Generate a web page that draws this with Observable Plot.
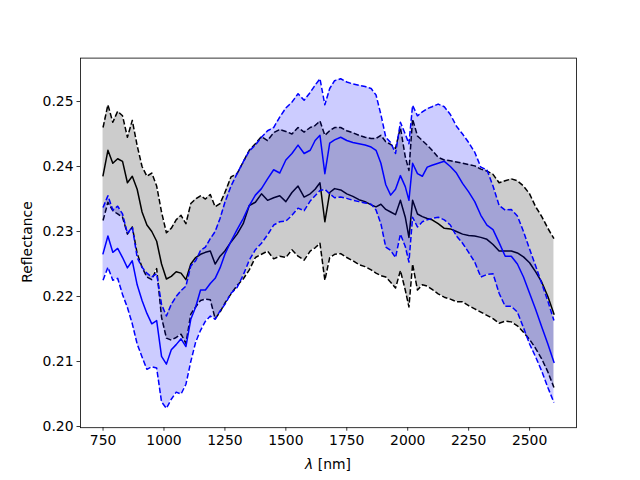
<!DOCTYPE html>
<html><head><meta charset="utf-8">
<script src="https://cdn.jsdelivr.net/npm/d3@7"></script>
<script src="https://cdn.jsdelivr.net/npm/@observablehq/plot@0.6"></script>
<style>
body{margin:0;background:#fff;}
svg{font-family:"DejaVu Sans";}
</style>
</head><body><div id="chart"></div>
<script>
const wavelength = [
  750, 770, 790, 810, 830, 850, 870, 890, 910, 930, 950, 970,
  990, 1010, 1030, 1050, 1070, 1090, 1110, 1130, 1150, 1170, 1190, 1210,
  1230, 1250, 1275, 1300, 1325, 1350, 1375, 1400, 1425, 1450, 1475, 1500,
  1525, 1550, 1575, 1600, 1620, 1640, 1660, 1680, 1700, 1725, 1750, 1775,
  1800, 1825, 1850, 1870, 1890, 1910, 1930, 1950, 1970, 1990, 2005, 2020,
  2040, 2060, 2080, 2100, 2125, 2150, 2175, 2200, 2225, 2250, 2275, 2300,
  2325, 2350, 2375, 2400, 2425, 2450, 2475, 2500, 2525, 2550, 2575, 2600
];
const blackUpper = [
  0.2460, 0.2495, 0.2468, 0.2485, 0.2478, 0.2445, 0.2471, 0.2432, 0.2400, 0.2385, 0.2390, 0.2370,
  0.2330, 0.2298, 0.2305, 0.2318, 0.2325, 0.2312, 0.2343, 0.2350, 0.2355, 0.2350, 0.2357, 0.2338,
  0.2343, 0.2360, 0.2384, 0.2389, 0.2407, 0.2425, 0.2435, 0.2446, 0.2440, 0.2452, 0.2457, 0.2454,
  0.2450, 0.2460, 0.2453, 0.2460, 0.2463, 0.2470, 0.2448, 0.2455, 0.2460, 0.2460, 0.2455, 0.2452,
  0.2448, 0.2445, 0.2443, 0.2443, 0.2448, 0.2438, 0.2434, 0.2428, 0.2460, 0.2415, 0.2394, 0.2473,
  0.2447, 0.2440, 0.2433, 0.2425, 0.2414, 0.2410, 0.2409, 0.2407, 0.2405, 0.2403, 0.2401, 0.2396,
  0.2393, 0.2388, 0.2375, 0.2378, 0.2381, 0.2378, 0.2370, 0.2358, 0.2338, 0.2323, 0.2305, 0.2289
];
const blackMean = [
  0.2386, 0.2425, 0.2405, 0.2412, 0.2408, 0.2375, 0.2385, 0.2365, 0.2330, 0.2310, 0.2300, 0.2285,
  0.2250, 0.2227, 0.2231, 0.2238, 0.2236, 0.2226, 0.2250, 0.2260, 0.2265, 0.2268, 0.2270, 0.2250,
  0.2262, 0.2270, 0.2284, 0.2296, 0.2312, 0.2340, 0.2345, 0.2358, 0.2348, 0.2352, 0.2355, 0.2346,
  0.2360, 0.2370, 0.2353, 0.2358, 0.2365, 0.2375, 0.2315, 0.2360, 0.2366, 0.2364, 0.2358, 0.2354,
  0.2349, 0.2346, 0.2341, 0.2338, 0.2342, 0.2334, 0.2330, 0.2326, 0.2348, 0.2322, 0.2291, 0.2348,
  0.2327, 0.2323, 0.2320, 0.2318, 0.2312, 0.2305, 0.2304, 0.2300, 0.2296, 0.2294, 0.2293, 0.2291,
  0.2288, 0.2280, 0.2270, 0.2270, 0.2270, 0.2267, 0.2261, 0.2252, 0.2238, 0.2222, 0.2200, 0.2173
];
const blackLower = [
  0.2317, 0.2345, 0.2332, 0.2327, 0.2322, 0.2296, 0.2307, 0.2266, 0.2245, 0.2230, 0.2226, 0.2243,
  0.2168, 0.2136, 0.2133, 0.2137, 0.2142, 0.2128, 0.2173, 0.2184, 0.2194, 0.2196, 0.2195, 0.2166,
  0.2176, 0.2190, 0.2204, 0.2217, 0.2227, 0.2241, 0.2260, 0.2265, 0.2270, 0.2258, 0.2262, 0.2260,
  0.2272, 0.2262, 0.2256, 0.2270, 0.2275, 0.2282, 0.2225, 0.2260, 0.2265, 0.2266, 0.2260, 0.2255,
  0.2249, 0.2246, 0.2241, 0.2236, 0.2232, 0.2230, 0.2222, 0.2213, 0.2240, 0.2210, 0.2184, 0.2250,
  0.2210, 0.2218, 0.2216, 0.2211, 0.2204, 0.2199, 0.2196, 0.2192, 0.2192, 0.2186, 0.2181, 0.2176,
  0.2171, 0.2166, 0.2159, 0.2162, 0.2161, 0.2155, 0.2145, 0.2134, 0.2120, 0.2104, 0.2084, 0.2060
];
const blueUpper = [
  0.2337, 0.2355, 0.2333, 0.2339, 0.2327, 0.2297, 0.2307, 0.2260, 0.2245, 0.2236, 0.2230, 0.2235,
  0.2188, 0.2170, 0.2188, 0.2200, 0.2209, 0.2216, 0.2247, 0.2255, 0.2271, 0.2276, 0.2289, 0.2300,
  0.2320, 0.2345, 0.2370, 0.2389, 0.2407, 0.2424, 0.2433, 0.2445, 0.2455, 0.2460, 0.2476, 0.2490,
  0.2499, 0.2512, 0.2502, 0.2514, 0.2525, 0.2535, 0.2495, 0.2520, 0.2532, 0.2535, 0.2530, 0.2527,
  0.2525, 0.2523, 0.2520, 0.2510, 0.2480, 0.2445, 0.2437, 0.2420, 0.2468, 0.2450, 0.2435, 0.2494,
  0.2478, 0.2484, 0.2489, 0.2492, 0.2496, 0.2492, 0.2480, 0.2462, 0.2450, 0.2437, 0.2422, 0.2399,
  0.2395, 0.2370, 0.2340, 0.2333, 0.2334, 0.2324, 0.2300, 0.2273, 0.2247, 0.2220, 0.2193, 0.2163
];
const blueMean = [
  0.2266, 0.2293, 0.2268, 0.2274, 0.2260, 0.2244, 0.2255, 0.2218, 0.2194, 0.2174, 0.2158, 0.2163,
  0.2108, 0.2096, 0.2118, 0.2126, 0.2135, 0.2123, 0.2165, 0.2184, 0.2210, 0.2210, 0.2220, 0.2228,
  0.2244, 0.2265, 0.2285, 0.2303, 0.2320, 0.2340, 0.2356, 0.2366, 0.2381, 0.2395, 0.2390, 0.2410,
  0.2420, 0.2433, 0.2420, 0.2425, 0.2440, 0.2448, 0.2389, 0.2436, 0.2441, 0.2445, 0.2440, 0.2437,
  0.2435, 0.2433, 0.2430, 0.2425, 0.2405, 0.2372, 0.2356, 0.2365, 0.2386, 0.2369, 0.2348, 0.2405,
  0.2389, 0.2385, 0.2399, 0.2402, 0.2405, 0.2408, 0.2400, 0.2390, 0.2374, 0.2361, 0.2346, 0.2325,
  0.2310, 0.2303, 0.2283, 0.2262, 0.2262, 0.2250, 0.2230, 0.2205, 0.2180, 0.2153, 0.2127, 0.2099
];
const blueLower = [
  0.2225, 0.2245, 0.2225, 0.2228, 0.2203, 0.2183, 0.2158, 0.2127, 0.2107, 0.2088, 0.2092, 0.2090,
  0.2038, 0.2028, 0.2042, 0.2053, 0.2050, 0.2065, 0.2100, 0.2130, 0.2148, 0.2162, 0.2170, 0.2165,
  0.2178, 0.2188, 0.2205, 0.2214, 0.2233, 0.2256, 0.2272, 0.2282, 0.2295, 0.2310, 0.2315, 0.2316,
  0.2325, 0.2336, 0.2332, 0.2347, 0.2355, 0.2363, 0.2365, 0.2358, 0.2352, 0.2353, 0.2351, 0.2348,
  0.2346, 0.2344, 0.2342, 0.2333, 0.2312, 0.2276, 0.2271, 0.2260, 0.2296, 0.2277, 0.2253, 0.2322,
  0.2307, 0.2315, 0.2318, 0.2320, 0.2322, 0.2318, 0.2310, 0.2293, 0.2282, 0.2268, 0.2253, 0.2230,
  0.2234, 0.2235, 0.2205, 0.2185, 0.2185, 0.2176, 0.2152, 0.2127, 0.2107, 0.2085, 0.2060, 0.2037
];
const xTicks = [750, 1000, 1250, 1500, 1750, 2000, 2250, 2500];
const yTicks = [0.20, 0.21, 0.22, 0.23, 0.24, 0.25];
const yLabel = "Reflectance";

const rows = wavelength.map((w, i) => ({
  w, bu: blackUpper[i], bm: blackMean[i], bl: blackLower[i],
  uu: blueUpper[i], um: blueMean[i], ul: blueLower[i]
}));

const dashed = {strokeWidth: 1.5, strokeDasharray: "5.55,2.4", strokeLinecap: "butt", strokeLinejoin: "round"};
const solid = {strokeWidth: 1.5, strokeLinecap: "square", strokeLinejoin: "round"};
const chart = Plot.plot({
  width: 640, height: 480,
  marginLeft: 80, marginRight: 64, marginTop: 57.6, marginBottom: 52.8,
  x: {domain: [657.5, 2692.5]},
  y: {domain: [0.19982, 0.25668]},
  style: {fontFamily: "DejaVu Sans", fontSize: "13.9px", background: "white", color: "black"},
  marks: [
    Plot.areaY(rows, {x: "w", y1: "bl", y2: "bu", fill: "black", fillOpacity: 0.2}),
    Plot.lineY(rows, {x: "w", y: "bu", stroke: "black", ...dashed}),
    Plot.lineY(rows, {x: "w", y: "bl", stroke: "black", ...dashed}),
    Plot.lineY(rows, {x: "w", y: "bm", stroke: "black", ...solid}),
    Plot.areaY(rows, {x: "w", y1: "ul", y2: "uu", fill: "blue", fillOpacity: 0.2}),
    Plot.lineY(rows, {x: "w", y: "uu", stroke: "blue", ...dashed}),
    Plot.lineY(rows, {x: "w", y: "ul", stroke: "blue", ...dashed}),
    Plot.lineY(rows, {x: "w", y: "um", stroke: "blue", ...solid}),
    Plot.frame({stroke: "black", strokeWidth: 0.8}),
    Plot.axisX({ticks: xTicks, tickSize: 3.5, tickPadding: 3.5, strokeWidth: 0.8, label: null, tickFormat: d => String(d)}),
    Plot.axisY({ticks: yTicks, tickSize: 3.5, tickPadding: 3.5, strokeWidth: 0.8, label: null, tickFormat: d3.format(".2f")})
  ]
});
document.getElementById("chart").appendChild(chart);

const svg = d3.select(chart);
const xl = svg.append("text")
  .attr("x", 328).attr("y", 464)
  .attr("text-anchor", "middle").attr("dominant-baseline", "central")
  .attr("font-size", "13.9px").attr("fill", "black");
xl.append("tspan").attr("font-style", "italic").text("λ");
xl.append("tspan").text(" [nm]");
svg.append("text")
  .attr("transform", "translate(27,242) rotate(-90)")
  .attr("text-anchor", "middle").attr("dominant-baseline", "central")
  .attr("font-size", "13.9px").attr("fill", "black")
  .text(yLabel);
</script>
</body></html>
